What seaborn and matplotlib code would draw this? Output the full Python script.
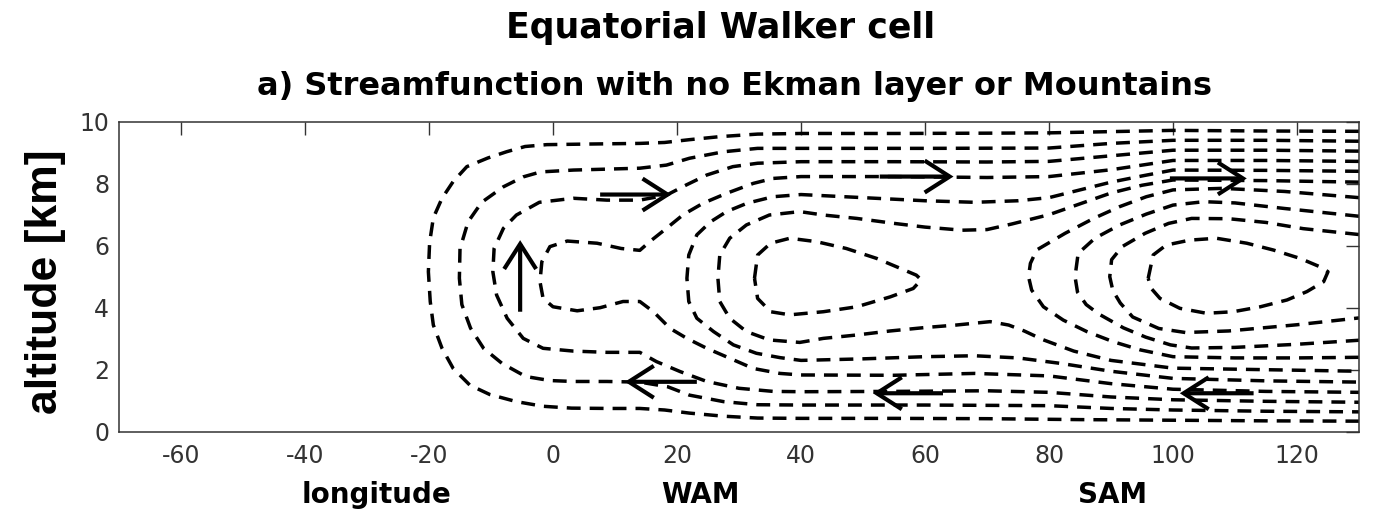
import matplotlib
matplotlib.use("Agg")
import matplotlib.pyplot as plt
import seaborn as sns

# contour lines of the streamfunction (longitude, altitude km)
c1_lon = [130, 115, 100, 90, 80, 70, 55, 40, 33, 27, 22, 18, 14, 6, -1, -4.5, -7.5, -10.5, -13.9, -16.1, -17.9, -19.3, -19.9, -20.1,
          -19.8, -19.3, -17.9, -16.1, -13.4, -10.2, -5.9, -1.6, 3, 9, 14, 18, 22, 27.5, 33, 40, 55, 70, 85, 100, 115, 130]
c1_alt = [9.69, 9.7, 9.72, 9.68, 9.64, 9.63, 9.62, 9.62, 9.6, 9.52, 9.42, 9.33, 9.3, 9.28, 9.26, 9.2, 9.03, 8.83, 8.55, 8.07, 7.53, 6.9, 6.1, 5.16,
          4.2, 3.44, 2.69, 2.04, 1.5, 1.2, 0.97, 0.82, 0.76, 0.75, 0.75, 0.7, 0.6, 0.5, 0.44, 0.43, 0.43, 0.42, 0.39, 0.37, 0.35, 0.34]

c2_lon = [130, 115, 100, 90, 80, 60, 45, 33, 27.5, 22, 18.3, 14, 8.7, 3.3, -2, -4.8, -8, -11.5, -13.7, -15, -15.1, -14.7,
          -13.3, -11.2, -8.2, -4.4, -0.5, 3.3, 8.7, 14, 18.5, 22, 27.5, 33, 40, 60, 80, 90, 100, 115, 130]
c2_alt = [9.37, 9.4, 9.4, 9.3, 9.15, 9.14, 9.14, 9.14, 9.03, 8.82, 8.6, 8.5, 8.47, 8.44, 8.38, 8.22, 7.9, 7.4, 6.77, 5.9, 4.95, 4.1,
          3.34, 2.69, 2.2, 1.78, 1.65, 1.62, 1.62, 1.6, 1.45, 1.18, 0.97, 0.87, 0.86, 0.86, 0.84, 0.75, 0.7, 0.66, 0.64]

c3_lon = [130, 115, 100, 90, 80, 70, 55, 40, 33, 29, 24.8, 21.5, 18.3, 14, 8.7, 3.3, -2.2, -5.9, -8, -9.5, -9.7, -9.1, -7.4,
          -4.8, -1.6, 3.3, 8.7, 14, 16.7, 20.5, 24.8, 30, 35.5, 40, 55, 70, 80, 90, 100, 115, 130]
c3_alt = [9.05, 9.08, 9.08, 8.9, 8.72, 8.7, 8.71, 8.71, 8.66, 8.55, 8.28, 7.96, 7.63, 7.47, 7.47, 7.53, 7.4, 6.99, 6.56, 5.91, 5.16, 4.41, 3.66,
          3.01, 2.69, 2.6, 2.56, 2.56, 2.26, 1.94, 1.62, 1.4, 1.3, 1.29, 1.3, 1.32, 1.27, 1.12, 1.03, 0.98, 0.95]

c4_lon = [130, 115, 100, 90, 80, 70, 55, 40, 35.5, 32.3, 28, 24.2, 21, 18.3, 15.6, 14, 11, 7.1, 2.3, -0.5, -1.8, -2.1, -1.6, 0,
          3.9, 7.6, 11.3, 14, 16.2, 18.9, 21.6, 24.8, 28.5, 32.3, 36.6, 40, 55, 68, 80, 90, 100, 115, 130]
c4_alt = [8.72, 8.75, 8.75, 8.45, 8.23, 8.2, 8.23, 8.23, 8.17, 8.01, 7.69, 7.37, 7.0, 6.56, 6.13, 5.85, 5.91, 6.08, 6.15, 5.97, 5.48, 4.84, 4.3, 4.03,
          3.9, 4.0, 4.2, 4.2, 3.87, 3.33, 3.01, 2.69, 2.37, 2.04, 1.88, 1.83, 1.82, 1.88, 1.8, 1.55, 1.37, 1.3, 1.27]

c5_lon = [130, 115, 100, 95, 90, 85, 80, 75, 68, 60, 50, 40, 35.5, 31.3, 28, 25.4, 23.2, 21.9, 21.6, 21.9, 23.2, 25.9, 29.1, 32.8,
          36.6, 40, 50, 60, 68, 75, 82, 90, 100, 115, 130]
c5_alt = [8.4, 8.43, 8.44, 8.25, 8.05, 7.8, 7.55, 7.45, 7.4, 7.45, 7.55, 7.65, 7.58, 7.37, 7.1, 6.77, 6.35, 5.7, 4.95, 4.2, 3.66, 3.23, 2.8, 2.53,
          2.39, 2.3, 2.35, 2.42, 2.45, 2.38, 2.2, 1.95, 1.72, 1.64, 1.6]

c6_lon = [130, 115, 100, 95, 90, 85, 80, 74, 70, 66, 60, 55, 49, 43.6, 39.8, 34.9, 31.2, 28.5, 26.9, 26.6, 26.9, 28.5, 31.2, 34.9,
          39.8, 43.6, 49, 54.4, 60, 65, 70.5, 73.5, 76, 79, 84, 90, 100, 115, 130]
c6_alt = [8.05, 8.1, 8.12, 7.95, 7.7, 7.35, 7.0, 6.7, 6.52, 6.5, 6.6, 6.72, 6.88, 6.99, 7.1, 6.99, 6.67, 6.24, 5.7, 4.95, 4.2, 3.66, 3.23, 2.96,
          2.88, 3.01, 3.12, 3.25, 3.36, 3.44, 3.55, 3.44, 3.25, 2.97, 2.6, 2.3, 2.05, 2.0, 1.95]

# closed cell west of the saddle
e1_lon = [32.5, 33, 35.1, 38.2, 42.5, 47.3, 52.2, 56, 58.6, 59.4, 58.1, 54.4, 49, 43.6, 38.2, 35.1, 33, 32.5]
e1_alt = [4.95, 5.7, 6.08, 6.24, 6.13, 5.91, 5.59, 5.27, 5.05, 4.9, 4.62, 4.35, 4.03, 3.87, 3.77, 3.87, 4.3, 4.95]

# eastern cell
r1_lon = [130, 118, 108, 100, 95.7, 91.4, 87.2, 82.6, 78, 77, 76.7, 77.2, 79.1, 82.3, 86.1, 90.4, 94.7, 100, 110, 120, 130]
r1_alt = [7.55, 7.75, 7.85, 7.8, 7.58, 7.26, 6.88, 6.4, 5.86, 5.43, 5.0, 4.57, 4.03, 3.6, 3.23, 2.9, 2.64, 2.42, 2.38, 2.38, 2.4]

r2_lon = [130, 118, 110, 105, 100, 95.7, 91.4, 87.4, 84.7, 84.2, 84.6, 86, 88, 92, 95.6, 99.6, 103, 110, 120, 130]
r2_alt = [6.95, 7.2, 7.38, 7.42, 7.31, 7.02, 6.67, 6.24, 5.75, 5.0, 4.5, 4.1, 3.8, 3.35, 3.05, 2.8, 2.7, 2.72, 2.82, 2.95]

r3_lon = [130, 121, 115, 109, 103, 99.3, 95.5, 91.8, 90.1, 89.8, 90.3, 91.5, 93.5, 97.7, 102, 109, 120, 130]
r3_alt = [6.36, 6.55, 6.75, 6.87, 6.88, 6.72, 6.4, 5.97, 5.55, 5.0, 4.55, 4.15, 3.7, 3.33, 3.2, 3.25, 3.45, 3.67]

e2_lon = [96, 96.8, 98.9, 102.7, 107, 111.9, 116.2, 120.5, 123.7, 125, 124.3, 121.6, 118.4, 114.1, 109.7, 105.4, 101.1, 97.9, 96.5, 96]
e2_alt = [4.95, 5.7, 6.02, 6.18, 6.24, 6.08, 5.86, 5.59, 5.32, 5.16, 4.84, 4.52, 4.25, 4.03, 3.87, 3.82, 3.98, 4.3, 4.62, 4.95]

contours = [(c1_lon, c1_alt), (c2_lon, c2_alt), (c3_lon, c3_alt), (c4_lon, c4_alt), (c5_lon, c5_alt), (c6_lon, c6_alt),
            (e1_lon, e1_alt), (r1_lon, r1_alt), (r2_lon, r2_alt), (r3_lon, r3_alt), (e2_lon, e2_alt)]

# wind arrows: tail -> tip
arrow_lon0 = [-5.3, 7.6, 23.2, 52.7, 62.9, 99.5, 113.0]
arrow_alt0 = [3.87, 7.65, 1.61, 8.23, 1.24, 8.17, 1.24]
arrow_lon1 = [-5.3, 19.1, 11.6, 64.6, 51.6, 111.9, 101.1]
arrow_alt1 = [6.18, 7.65, 1.61, 8.23, 1.24, 8.17, 1.24]

xticks = [-60, -40, -20, 0, 20, 40, 60, 80, 100, 120]
yticks = [0, 2, 4, 6, 8, 10]

sns.set_style("white")
plt.rcParams["font.family"] = ["DejaVu Sans"]
plt.rcParams["axes.unicode_minus"] = False
plt.rcParams["text.color"] = "black"

fig = plt.figure(figsize=(13.86, 5.13), dpi=100)
ax = fig.add_axes([119 / 1386, 81.3 / 513, 1240 / 1386, 310 / 513])

for lon, alt in contours:
    sns.lineplot(x=lon, y=alt, sort=False, estimator=None, ax=ax, color="black",
                 linewidth=2.5, linestyle=(0, (4, 2.6)))

for x0, y0, x1, y1 in zip(arrow_lon0, arrow_alt0, arrow_lon1, arrow_alt1):
    ax.annotate("", xy=(x1, y1), xytext=(x0, y0),
                arrowprops=dict(arrowstyle="->,head_length=1.8,head_width=1.15",
                                color="black", lw=3.0, shrinkA=0, shrinkB=0,
                                joinstyle="miter", capstyle="butt"))

ax.set_xlim(-70, 130)
ax.set_ylim(0, 10)
ax.set_xticks(xticks)
ax.set_yticks(yticks)
ax.set_xlabel("")
ax.set_ylabel("")
ax.tick_params(direction="in", length=9.5, width=1, top=True, right=True,
               labelsize=17, labelcolor="#333333", color="#333333")
ax.tick_params(axis="x", pad=9)
ax.tick_params(axis="y", pad=7)
for s in ax.spines.values():
    s.set_color("#333333")
    s.set_linewidth(1.1)

fig.text(0.520, 0.926, "Equatorial Walker cell", ha="center", va="baseline",
         fontsize=25, fontweight="bold", color="black")
fig.text(0.530, 0.815, "a) Streamfunction with no Ekman layer or Mountains", ha="center",
         va="baseline", fontsize=23, fontweight="bold", color="black")
fig.text(0.2713, 0.0195, "longitude", ha="center", va="baseline", fontsize=20, fontweight="bold", color="black")
fig.text(0.505, 0.0195, "WAM", ha="center", va="baseline", fontsize=20, fontweight="bold", color="black")
fig.text(0.803, 0.0195, "SAM", ha="center", va="baseline", fontsize=20, fontweight="bold", color="black")
fig.text(0.0325, 0.45, "altitude [km]", ha="center", va="center", rotation=90, color="black",
         fontsize=32, fontweight="bold", family=["Liberation Sans", "DejaVu Sans"])

fig.savefig("out.png", dpi=100)
